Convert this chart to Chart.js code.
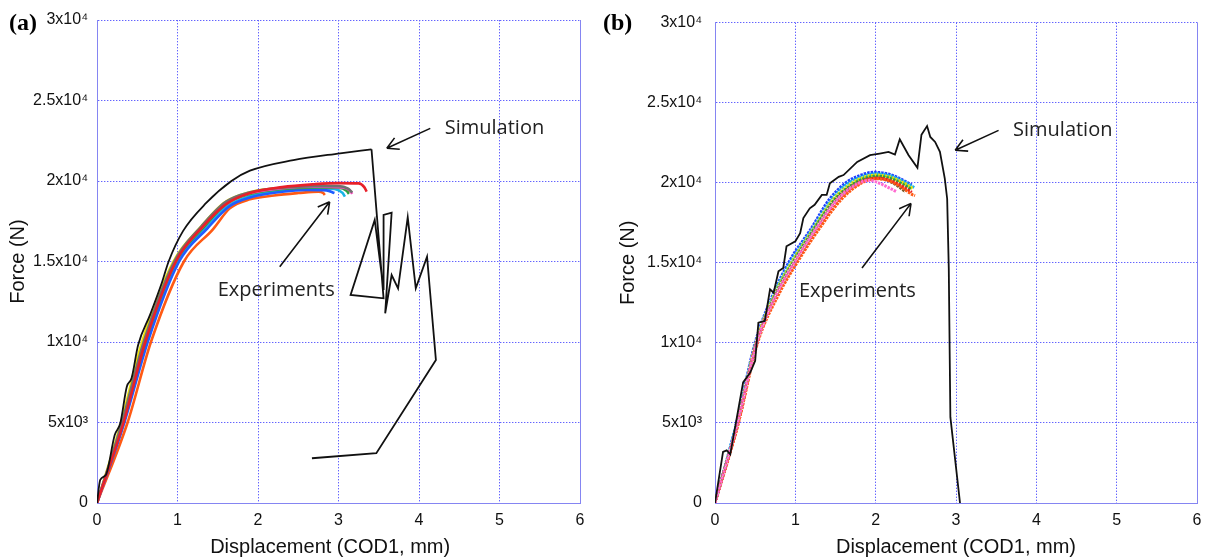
<!DOCTYPE html>
<html>
<head>
<meta charset="utf-8">
<script src="https://cdn.jsdelivr.net/npm/chart.js@4.4.1/dist/chart.umd.min.js"></script>
<style>
  html, body { margin: 0; padding: 0; background: #fff; }
  #wrap { position: relative; width: 1212px; height: 560px; overflow: hidden; }
  canvas { position: absolute; top: 0; }
  #chartA { left: 0; }
  #chartB { left: 600px; }
</style>
</head>
<body>
<div id="wrap">
  <canvas id="chartA" width="600" height="560"></canvas>
  <canvas id="chartB" width="612" height="560"></canvas>
</div>
<script>
// axis ticks
const yTickValues = [0, 5000, 10000, 15000, 20000, 25000, 30000];
const yTickLabels = ["0", "5x10³", "1x10⁴", "1.5x10⁴", "2x10⁴", "2.5x10⁴", "3x10⁴"];

// ---- panel (a) ----
// simulation: smooth loading part, then the jagged failure part
const simA_rise = [[0,0],[0.04,1430],[0.11,1740],[0.22,4220],[0.29,4970],[0.37,7220],[0.43,7760],[0.51,9800],
  [0.66,11700],[0.80,13600],[0.89,15000],[1.07,16900],[1.36,18650],[1.67,20000],[1.90,20640],[2.44,21300],
  [3.02,21720],[3.41,21970]];
const simA_fail = [[3.41,21970],[3.56,12710],[3.15,12920],[3.45,17580],[3.56,13230],[3.56,17890],[3.66,18030],
  [3.58,11780],[3.66,14160],[3.74,13330],[3.86,17740],[3.96,13330],[4.10,15300],[4.21,8880],[3.47,3090],[2.67,2780]];

const expA_red = [[0,0],[0.33,5000],[0.60,10000],[0.98,15000],[1.32,17200],[1.60,18550],[1.90,19250],[2.30,19620],[2.70,19800],[3.00,19870],[3.25,19850],[3.32,19620],[3.35,19340]];
const expA_gray = [[0,0],[0.31,5000],[0.58,10000],[0.96,15000],[1.30,17200],[1.60,18700],[1.90,19300],[2.30,19580],[2.70,19680],[3.00,19680],[3.12,19520],[3.17,19280]];
const expA_magenta = [[0,0],[0.32,5000],[0.59,10000],[0.97,15000],[1.31,17150],[1.60,18620],[1.90,19250],[2.30,19550],[2.70,19640],[3.05,19600],[3.14,19420],[3.17,19200]];
const expA_green = [[0,0],[0.32,5000],[0.60,10000],[0.98,15000],[1.32,17100],[1.61,18600],[1.90,19200],[2.30,19500],[2.70,19600],[3.00,19580],[3.10,19400],[3.13,19200]];
const expA_blue = [[0,0],[0.34,5000],[0.63,10000],[1.02,15000],[1.37,17050],[1.65,18450],[1.90,18980],[2.30,19330],[2.60,19450],[2.85,19420],[2.95,19250]];
const expA_cyan = [[0,0],[0.33,5000],[0.61,10000],[1.00,15000],[1.34,17100],[1.62,18450],[1.90,19050],[2.30,19420],[2.70,19560],[2.95,19500],[3.05,19260],[3.08,19030]];
const expA_yellow = [[0,0],[0.30,5000],[0.56,10000],[0.95,15000],[1.29,17150],[1.58,18650],[1.90,19300],[2.30,19560],[2.70,19660],[3.00,19660],[3.10,19480],[3.13,19280]];
const expA_orange = [[0,0],[0.38,5000],[0.67,10000],[1.08,15000],[1.44,17000],[1.65,18300],[1.90,18860],[2.20,19100],[2.50,19250],[2.75,19340],[2.81,19250],[2.83,19130]];

const notesA = [["Simulation", 4.32, 23290], ["Experiments", 1.50, 13230]];
const arrowsA = [[4.14, 23270, 3.60, 22030], [2.27, 14680, 2.89, 18710]];

// ---- panel (b) ----
const simB = [[0,0],[0.10,3190],[0.145,3290],[0.19,3040],[0.35,7530],[0.44,8160],[0.50,8880],[0.54,11260],
  [0.62,11370],[0.685,13340],[0.73,13130],[0.79,14470],[0.85,14680],[0.89,16030],[1.00,16340],[1.06,16850],
  [1.10,17790],[1.18,18400],[1.24,18620],[1.33,19240],[1.39,19240],[1.43,19960],[1.54,20370],[1.60,20480],
  [1.77,21300],[1.93,21720],[2.05,21820],[2.16,21920],[2.24,21760],[2.30,22710],[2.41,21720],[2.52,20930],
  [2.57,23000],[2.64,23540],[2.68,22860],[2.74,22550],[2.80,21930],[2.86,20270],[2.89,19000],[2.91,14680],
  [2.93,5360],[3.05,0]];

const expB_pink = [[0,0],[0.28,5000],[0.52,10000],[0.76,13000],[0.99,15050],[1.24,17000],[1.53,19000],[1.78,19950],[1.92,20150],[2.05,19960],[2.16,19700],[2.26,19440]];
const expB_orange = [[0,0],[0.29,5000],[0.53,10000],[0.79,13000],[1.02,15000],[1.28,17000],[1.58,19000],[1.83,20000],[1.99,20250],[2.15,20150],[2.30,19800],[2.46,19250],[2.49,19190]];
const expB_red = [[0,0],[0.29,5000],[0.52,10000],[0.77,13000],[1.00,15000],[1.26,17000],[1.55,19000],[1.79,19950],[1.95,20250],[2.05,20280],[2.20,20100],[2.34,19750],[2.45,19400]];
const expB_brown = [[0,0],[0.28,5000],[0.52,10000],[0.76,13000],[0.99,15050],[1.24,17000],[1.52,19000],[1.76,19950],[1.92,20250],[2.02,20300],[2.17,20100],[2.28,19780],[2.37,19440]];
const expB_green = [[0,0],[0.28,5000],[0.52,10000],[0.75,13000],[0.98,15100],[1.22,17000],[1.50,19000],[1.73,19950],[1.90,20330],[2.02,20400],[2.18,20270],[2.32,19950],[2.44,19600]];
const expB_yellow = [[0,0],[0.28,5000],[0.51,10000],[0.74,13000],[0.97,15150],[1.21,17000],[1.48,19000],[1.70,19950],[1.86,20350],[2.00,20480],[2.18,20350],[2.33,20030],[2.46,19640]];
const expB_cyan = [[0,0],[0.27,5000],[0.51,10000],[0.73,13000],[0.96,15200],[1.20,17000],[1.46,19000],[1.67,20000],[1.85,20420],[2.00,20560],[2.18,20440],[2.33,20120],[2.48,19700]];
const expB_blue = [[0,0],[0.27,5000],[0.50,10000],[0.72,13000],[0.95,15300],[1.18,17000],[1.43,19000],[1.63,20000],[1.80,20450],[1.97,20650],[2.15,20560],[2.30,20260],[2.45,19860]];

const notesB = [["Simulation", 3.71, 23290], ["Experiments", 1.045, 13230]];
const arrowsB = [[3.53, 23270, 2.99, 22030], [1.83, 14680, 2.44, 18710]];

const GRID = "#6363ff";
const FRAME = "#8585f2";
const SANS = "'Liberation Sans', Arial, sans-serif";

const pts = arr => arr.map(p => ({ x: p[0], y: p[1] }));

function expLine(arr, color, dotted) {
  return {
    data: pts(arr), showLine: true, borderColor: color, borderWidth: dotted ? 3 : 2.6,
    borderDash: dotted ? [2.5, 1] : [], pointRadius: 0, cubicInterpolationMode: "monotone", order: 2
  };
}
function simLine(arr, smooth) {
  return {
    data: pts(arr), showLine: true, borderColor: "#111", borderWidth: 1.8, pointRadius: 0,
    cubicInterpolationMode: smooth ? "monotone" : "default", tension: 0, order: 1
  };
}

// arrows, notes, panel tag and right frame edge
function notesPlugin(tag, notes, arrows) {
  return {
    id: "notes",
    afterDatasetsDraw(chart) {
      const { ctx, chartArea } = chart;
      const xs = chart.scales.x, ys = chart.scales.y;
      ctx.save();
      ctx.strokeStyle = FRAME; ctx.lineWidth = 1;
      ctx.beginPath();
      ctx.moveTo(chartArea.right + 0.5, chartArea.top);
      ctx.lineTo(chartArea.right + 0.5, chartArea.bottom);
      ctx.stroke();

      ctx.strokeStyle = "#111"; ctx.lineWidth = 1.6;
      arrows.forEach(a => {
        const x1 = xs.getPixelForValue(a[0]), y1 = ys.getPixelForValue(a[1]);
        const x2 = xs.getPixelForValue(a[2]), y2 = ys.getPixelForValue(a[3]);
        const ang = Math.atan2(y2 - y1, x2 - x1);
        ctx.beginPath();
        ctx.moveTo(x1, y1); ctx.lineTo(x2, y2);
        [0.5, -0.5].forEach(d => {
          ctx.moveTo(x2, y2);
          ctx.lineTo(x2 - 13 * Math.cos(ang + d), y2 - 13 * Math.sin(ang + d));
        });
        ctx.stroke();
      });

      ctx.fillStyle = "#222";
      ctx.font = "20px 'Open Sans', sans-serif";
      ctx.textBaseline = "middle"; ctx.textAlign = "left";
      notes.forEach(n => ctx.fillText(n[0], xs.getPixelForValue(n[1]), ys.getPixelForValue(n[2])));

      ctx.fillStyle = "#000";
      ctx.font = "bold 24px 'Liberation Serif', 'Times New Roman', serif";
      ctx.textBaseline = "alphabetic";
      ctx.fillText(tag, tag === "(a)" ? 9 : 3, 30);
      ctx.restore();
    }
  };
}

function makeChart(id, datasets, yWidth, padRight, yTitlePad, xTitle, tag, notes, arrows) {
  return new Chart(document.getElementById(id), {
    type: "scatter",
    data: { datasets },
    options: {
      responsive: false, animation: false, devicePixelRatio: 1,
      layout: { padding: { left: 0, right: padRight, top: 20, bottom: 0 } },
      plugins: { legend: { display: false }, tooltip: { enabled: false } },
      scales: {
        x: {
          type: "linear", min: 0, max: 6,
          afterFit: s => { s.height = 57; },
          ticks: { stepSize: 1, padding: 8, color: "#111", font: { family: SANS, size: 16 } },
          grid: { color: GRID, lineWidth: 1, drawTicks: false },
          border: { display: true, color: FRAME, width: 1, dash: [1.4, 1.6] },
          title: { display: true, text: xTitle, color: "#111", font: { family: SANS, size: 20 }, padding: { top: 0, bottom: 1 } }
        },
        y: {
          type: "linear", min: 0, max: 30000,
          afterFit: s => { s.width = yWidth; },
          ticks: {
            stepSize: 5000, autoSkip: false, padding: yWidth === 97 ? 9 : 13, color: "#111",
            font: { family: SANS, size: 16 },
            callback: v => yTickLabels[yTickValues.indexOf(v)]
          },
          grid: { color: GRID, lineWidth: 1, drawTicks: false },
          border: { display: true, color: FRAME, width: 1, dash: [1.4, 1.6] },
          title: { display: true, text: "Force (N)", color: "#111", font: { family: SANS, size: 20 }, padding: { top: yTitlePad, bottom: 0 } }
        }
      }
    },
    plugins: [notesPlugin(tag, notes, arrows)]
  });
}

makeChart("chartA", [
  simLine(simA_rise, true),
  simLine(simA_fail, false),
  expLine(expA_red, "#e8202a"),
  expLine(expA_gray, "#707070"),
  expLine(expA_magenta, "#ff48c4"),
  expLine(expA_green, "#2f9e3f"),
  expLine(expA_blue, "#1f5cff"),
  expLine(expA_cyan, "#18b4e6"),
  expLine(expA_yellow, "#f0e400"),
  expLine(expA_orange, "#ff5a14")
], 97, 20, 6, "Displacement (COD1, mm)   ", "(a)", notesA, arrowsA);

makeChart("chartB", [
  simLine(simB, false),
  expLine(expB_pink, "#ff6ad0", true),
  expLine(expB_orange, "#ff5a14", true),
  expLine(expB_red, "#e8202a", true),
  expLine(expB_brown, "#7a5a2a", true),
  expLine(expB_green, "#2f9e3f", true),
  expLine(expB_yellow, "#f0e400", true),
  expLine(expB_cyan, "#18b4e6", true),
  expLine(expB_blue, "#1f3cff", true)
], 115, 15, 16, "Displacement (COD1, mm)", "(b)", notesB, arrowsB);
</script>
</body>
</html>
